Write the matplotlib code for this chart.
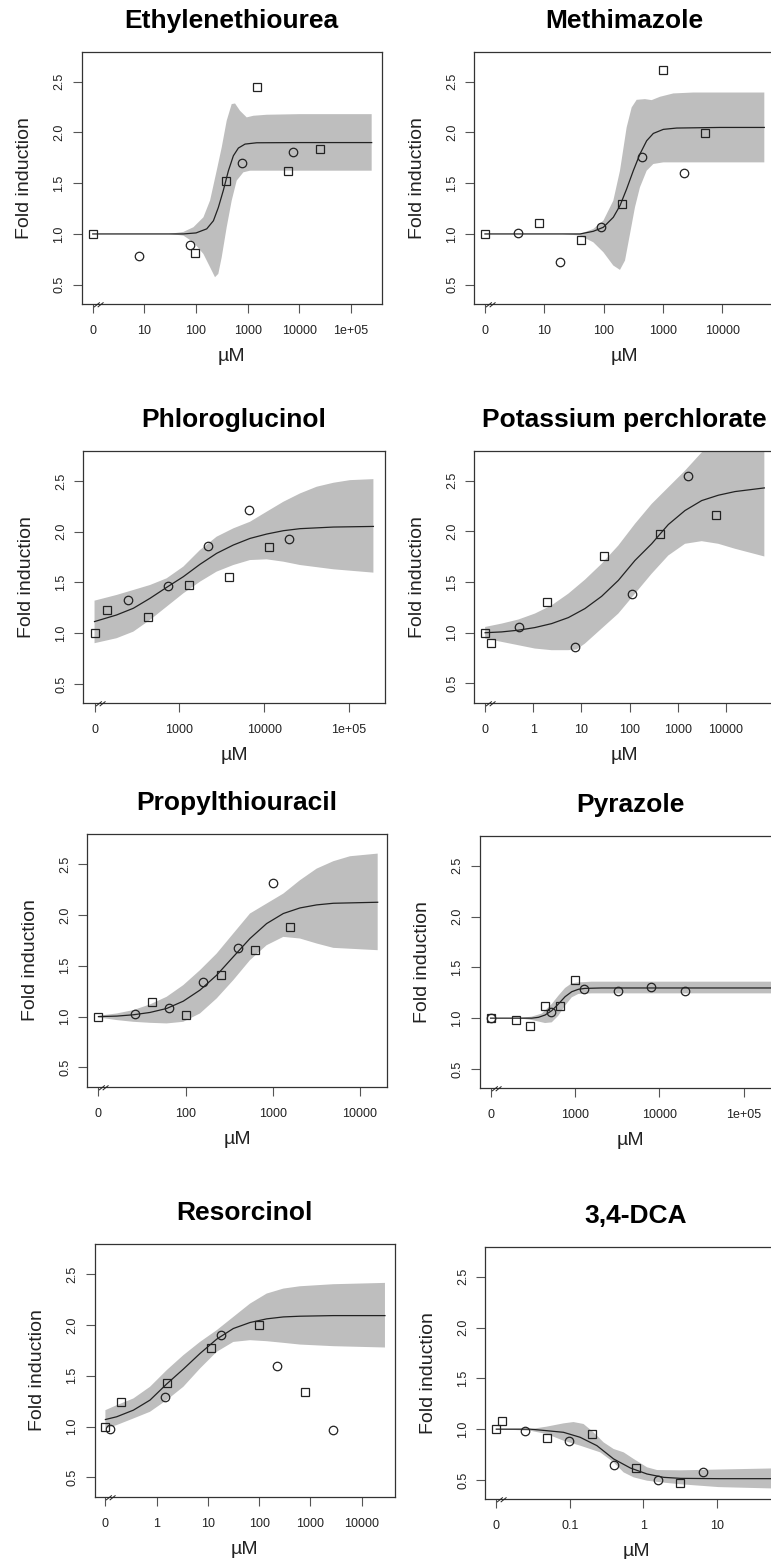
import numpy as np
import matplotlib
matplotlib.use("Agg")
import matplotlib.pyplot as plt
from matplotlib.path import Path
from matplotlib.transforms import offset_copy

plt.rcParams['font.family'] = ['Liberation Sans', 'DejaVu Sans']

W, H = 771, 1559

# ---- data (dose in uM, fold induction); dose 0 is drawn at the "0" tick ----
ETU_sq = [(0, 1.0), (95.5, 0.81), (380, 1.518), (1540, 2.452), (6100, 1.616), (24700, 1.836)]
ETU_ci = [(7.9, 0.787), (76.5, 0.895), (765, 1.698), (7650, 1.81)]
ETU_fit = [(0, 1.0), (57, 1.0), (100, 1.01), (161, 1.05), (217, 1.13), (270, 1.26), (338, 1.43),
           (422, 1.62), (528, 1.77), (660, 1.846), (888, 1.885), (1493, 1.898), (10300, 1.9), (251000, 1.9)]
ETU_hi = [(0, 1.0), (30, 1.0), (57, 1.02), (89, 1.066), (139, 1.164), (187, 1.33), (251, 1.623),
          (314, 1.852), (392, 2.115), (490, 2.279), (569, 2.285), (711, 2.213), (957, 2.148),
          (1288, 2.164), (2333, 2.174), (10300, 2.18), (251000, 2.18)]
ETU_lo = [(0, 1.0), (30, 1.0), (57, 0.984), (89, 0.918), (139, 0.803), (187, 0.672), (233, 0.574),
          (270, 0.607), (314, 0.77), (392, 1.066), (490, 1.328), (612, 1.525), (824, 1.607),
          (1110, 1.623), (10300, 1.623), (251000, 1.623)]

MMI_sq = [(0, 1.0), (8.1, 1.105), (41, 0.94), (204, 1.295), (1013, 2.61), (5030, 1.997)]
MMI_ci = [(3.65, 1.01), (18.1, 0.728), (90, 1.069), (449, 1.757), (2290, 1.60)]
MMI_fit = [(0, 1.0), (40, 1.0), (67, 1.026), (99, 1.066), (145.5, 1.164), (188.5, 1.279), (244, 1.443),
           (316, 1.623), (409, 1.787), (531, 1.918), (687, 1.99), (1013, 2.03), (1700, 2.043),
           (9140, 2.049), (51000, 2.049)]
MMI_hi = [(0, 1.0), (20, 1.0), (40, 1.0), (67, 1.049), (99, 1.131), (145.5, 1.328), (188.5, 1.623),
          (244, 2.049), (296.5, 2.246), (360, 2.321), (497, 2.328), (644, 2.318), (890, 2.351),
          (1493, 2.384), (3243, 2.393), (51000, 2.393)]
MMI_lo = [(0, 1.0), (20, 1.0), (40, 0.984), (67, 0.918), (99, 0.82), (145.5, 0.689), (188.5, 0.646),
          (229, 0.738), (278, 1.0), (337, 1.262), (409, 1.459), (531, 1.623), (687, 1.689),
          (1013, 1.705), (51000, 1.705)]

PHL_sq = [(0, 1.0), (142, 1.226), (427, 1.161), (1289, 1.475), (3820, 1.554), (11430, 1.849)]
PHL_ci = [(245, 1.325), (742, 1.469), (2198, 1.862), (6575, 2.216), (19700, 1.928)]
PHL_fit = [(0, 1.115), (182, 1.18), (287, 1.246), (451, 1.344), (709, 1.452), (1115, 1.557),
           (1754, 1.679), (2755, 1.787), (4335, 1.869), (6820, 1.934), (10720, 1.977),
           (16870, 2.01), (26530, 2.03), (65600, 2.046), (194600, 2.052)]
PHL_hi = [(0, 1.321), (182, 1.377), (287, 1.426), (451, 1.475), (709, 1.541), (1115, 1.656),
          (1754, 1.82), (2755, 1.951), (4335, 2.033), (6820, 2.098), (10720, 2.197), (16870, 2.295),
          (26530, 2.377), (41700, 2.443), (65600, 2.482), (103100, 2.508), (194600, 2.518)]
PHL_lo = [(0, 0.902), (182, 0.951), (287, 1.016), (451, 1.131), (709, 1.262), (1115, 1.393),
          (1754, 1.508), (2755, 1.607), (4335, 1.672), (6820, 1.721), (10720, 1.728),
          (16870, 1.705), (26530, 1.672), (65600, 1.63), (194600, 1.597)]

KP_sq = [(0, 1.0), (0.132, 0.9), (1.95, 1.30), (28.8, 1.752), (420, 1.969), (6200, 2.159)]
KP_ci = [(0.496, 1.057), (7.33, 0.864), (110, 1.379), (1626, 2.549)]
KP_fit = [(0, 1.0), (0.22, 1.008), (0.488, 1.025), (1.08, 1.051), (2.4, 1.09), (5.33, 1.149),
          (11.8, 1.238), (26.2, 1.359), (58.2, 1.516), (129, 1.713), (286, 1.877), (420, 1.969),
          (635, 2.067), (1409, 2.205), (3125, 2.303), (6930, 2.356), (15380, 2.392), (62500, 2.428)]
KP_hi = [(0, 1.057), (0.22, 1.09), (0.488, 1.13), (1.08, 1.189), (2.4, 1.27), (5.33, 1.385),
         (11.8, 1.523), (26.2, 1.68), (58.2, 1.86), (129, 2.074), (286, 2.27), (635, 2.434),
         (1409, 2.598), (3125, 2.778), (6930, 2.893), (15380, 2.959), (62500, 3.02)]
KP_lo = [(0, 0.943), (0.22, 0.91), (0.488, 0.877), (1.08, 0.844), (2.4, 0.828), (5.33, 0.828),
         (7.94, 0.835), (11.8, 0.893), (26.2, 1.041), (58.2, 1.189), (129, 1.385), (286, 1.582),
         (635, 1.762), (1409, 1.877), (3125, 1.903), (6930, 1.877), (15380, 1.828),
         (34100, 1.785), (62500, 1.752)]

PTU_sq = [(0, 1.0), (40.7, 1.146), (102, 1.015), (252, 1.405), (630, 1.654), (1587, 1.879)]
PTU_ci = [(26, 1.021), (64.4, 1.087), (160, 1.339), (399, 1.68), (996, 2.318)]
PTU_fit = [(0, 1.0), (16.2, 1.005), (25.1, 1.018), (39, 1.041), (60.5, 1.08), (94, 1.152),
           (146, 1.261), (227, 1.408), (352, 1.589), (547, 1.769), (849, 1.916), (1319, 2.015),
           (2049, 2.07), (3183, 2.1), (4943, 2.116), (15950, 2.126)]
PTU_hi = [(0, 1.008), (16.2, 1.031), (25.1, 1.064), (39, 1.12), (60.5, 1.195), (94, 1.31),
          (146, 1.457), (227, 1.621), (352, 1.818), (547, 2.015), (849, 2.113), (1319, 2.211),
          (2049, 2.343), (3183, 2.457), (4943, 2.53), (7678, 2.579), (15950, 2.605)]
PTU_lo = [(0, 0.992), (16.2, 0.966), (25.1, 0.949), (39, 0.939), (60.5, 0.933), (94, 0.949),
          (146, 1.031), (227, 1.179), (352, 1.359), (547, 1.556), (849, 1.703), (1319, 1.785),
          (2049, 1.769), (3183, 1.72), (4943, 1.677), (15950, 1.654)]

PYR_sq = [(0, 1.0), (198, 0.982), (296, 0.927), (445, 1.117), (670, 1.12), (1009, 1.372)]
PYR_ci = [(0, 1.0), (525, 1.058), (1290, 1.284), (3228, 1.264), (8020, 1.31), (20100, 1.264)]
PYR_fit = [(0, 1.0), (307, 1.0), (368, 1.008), (442, 1.031), (530, 1.074), (635, 1.139),
           (762, 1.211), (914, 1.26), (1095, 1.284), (1313, 1.293), (2069, 1.297), (256000, 1.297)]
PYR_hi = [(0, 1.0), (213, 1.0), (307, 1.015), (403, 1.045), (530, 1.139), (635, 1.221),
          (762, 1.297), (914, 1.343), (1095, 1.352), (1574, 1.359), (256000, 1.359)]
PYR_lo = [(0, 1.0), (213, 1.0), (307, 0.982), (442, 0.952), (530, 0.959), (635, 1.025),
          (762, 1.123), (914, 1.205), (1095, 1.238), (1574, 1.244), (256000, 1.244)]

RES_sq = [(0, 1.0), (0.199, 1.238), (1.57, 1.434), (11.5, 1.775), (99, 2.005), (782, 1.343)]
RES_ci = [(0.123, 0.979), (1.45, 1.29), (18, 1.903), (222, 1.592), (2790, 0.962)]
RES_fit = [(0, 1.07), (0.166, 1.097), (0.351, 1.162), (0.741, 1.261), (1.57, 1.42), (3.31, 1.566),
           (7.0, 1.72), (14.8, 1.861), (31.3, 1.966), (66.2, 2.025), (140, 2.061), (296, 2.08),
           (625, 2.087), (2792, 2.093), (28400, 2.093)]
RES_hi = [(0, 1.162), (0.166, 1.211), (0.351, 1.277), (0.741, 1.392), (1.57, 1.556), (3.31, 1.703),
          (7.0, 1.834), (14.8, 1.949), (31.3, 2.08), (66.2, 2.211), (140, 2.31), (296, 2.359),
          (625, 2.382), (2792, 2.402), (28400, 2.415)]
RES_lo = [(0, 0.982), (0.166, 1.015), (0.351, 1.08), (0.741, 1.146), (1.57, 1.261), (3.31, 1.392),
          (7.0, 1.572), (14.8, 1.736), (31.3, 1.834), (66.2, 1.851), (140, 1.841), (296, 1.825),
          (625, 1.808), (2792, 1.792), (28400, 1.779)]

DCA_sq = [(0, 1.0), (0.0121, 1.084), (0.0491, 0.913), (0.197, 0.952), (0.785, 0.618), (3.16, 0.471)]
DCA_ci = [(0.0246, 0.979), (0.098, 0.887), (0.394, 0.651), (1.585, 0.503), (6.38, 0.58)]
DCA_fit = [(0, 1.0), (0.0288, 1.0), (0.0486, 0.985), (0.082, 0.969), (0.138, 0.92), (0.233, 0.838),
           (0.394, 0.707), (0.665, 0.618), (1.122, 0.559), (1.892, 0.526), (3.2, 0.516),
           (10.6, 0.513), (70, 0.513)]
DCA_hi = [(0, 1.0), (0.0288, 1.0), (0.0486, 1.025), (0.082, 1.057), (0.112, 1.07), (0.1535, 1.051),
          (0.21, 0.969), (0.288, 0.87), (0.394, 0.805), (0.539, 0.772), (0.738, 0.707),
          (1.122, 0.625), (1.535, 0.598), (3.2, 0.595), (70, 0.615)]
DCA_lo = [(0, 1.0), (0.0288, 0.985), (0.0486, 0.952), (0.082, 0.887), (0.138, 0.838), (0.189, 0.805),
          (0.259, 0.772), (0.394, 0.674), (0.539, 0.575), (0.738, 0.526), (1.122, 0.493),
          (1.892, 0.474), (3.2, 0.458), (10.6, 0.43), (70, 0.415)]

titles = ["Ethylenethiourea", "Methimazole", "Phloroglucinol", "Potassium perchlorate",
          "Propylthiouracil", "Pyrazole", "Resorcinol", "3,4-DCA"]
squares = [ETU_sq, MMI_sq, PHL_sq, KP_sq, PTU_sq, PYR_sq, RES_sq, DCA_sq]
circles = [ETU_ci, MMI_ci, PHL_ci, KP_ci, PTU_ci, PYR_ci, RES_ci, DCA_ci]
fits = [ETU_fit, MMI_fit, PHL_fit, KP_fit, PTU_fit, PYR_fit, RES_fit, DCA_fit]
uppers = [ETU_hi, MMI_hi, PHL_hi, KP_hi, PTU_hi, PYR_hi, RES_hi, DCA_hi]
lowers = [ETU_lo, MMI_lo, PHL_lo, KP_lo, PTU_lo, PYR_lo, RES_lo, DCA_lo]

# where the dose "0" sits on each log axis
zero_at = [1, 1, 100, 0.1, 10, 100, 0.1, 0.01]
xtick_vals = [[10, 100, 1000, 1e4, 1e5], [10, 100, 1000, 1e4], [1000, 1e4, 1e5],
              [1, 10, 100, 1000, 1e4], [100, 1000, 1e4], [1000, 1e4, 1e5],
              [1, 10, 100, 1000, 1e4], [0.1, 1, 10]]
xtick_labs = [["10", "100", "1000", "10000", "1e+05"], ["10", "100", "1000", "10000"],
              ["1000", "10000", "1e+05"], ["1", "10", "100", "1000", "10000"],
              ["100", "1000", "10000"], ["1000", "10000", "1e+05"],
              ["1", "10", "100", "1000", "10000"], ["0.1", "1", "10"]]
xlims = [(0.612, 392600), (0.661, 77200), (73.7, 266600), (0.0596, 104000),
         (7.45, 20400), (74.3, 275000), (0.0618, 44570), (0.00708, 89)]

# axes boxes in pixels: left, top, right, bottom
boxes = [(81.7, 51.7, 381.7, 304), (474.3, 51.7, 775, 304),
         (83.3, 451, 385, 703.3), (474.3, 450.7, 775, 702.7),
         (87.3, 834.3, 387, 1086.7), (479.7, 835.7, 781, 1088.3),
         (94.7, 1244.3, 395, 1496.7), (485.3, 1246.7, 786.7, 1499.3)]

band_col = '#bebebe'
ink = '#222222'
frame = '#333333'

# "//" axis-break mark
brk = Path([(0.5, -2.5), (6, 2), (4, -2.5), (9.5, 2)],
           [Path.MOVETO, Path.LINETO, Path.MOVETO, Path.LINETO])


def split(pairs, z):
    x = np.array([p[0] for p in pairs], float)
    y = np.array([p[1] for p in pairs], float)
    x[x == 0] = z
    return x, y


fig = plt.figure(figsize=(W / 100, H / 100), dpi=100)

for i in range(8):
    l, t, r, b = boxes[i]
    ax = fig.add_axes([l / W, 1 - b / H, (r - l) / W, (b - t) / H])
    z = zero_at[i]

    hx, hy = split(uppers[i], z)
    lx, ly = split(lowers[i], z)
    ax.fill(np.r_[hx, lx[::-1]], np.r_[hy, ly[::-1]], color=band_col, lw=0, zorder=1)

    fx, fy = split(fits[i], z)
    ax.plot(fx, fy, color=ink, lw=0.9, zorder=2)

    sx, sy = split(squares[i], z)
    ax.plot(sx, sy, ls='none', marker='s', ms=5.3, mfc='none', mec=ink, mew=0.9, zorder=3)
    cx, cy = split(circles[i], z)
    ax.plot(cx, cy, ls='none', marker='o', ms=6.1, mfc='none', mec=ink, mew=0.9, zorder=3)

    ax.set_xscale('log')
    ax.set_xlim(*xlims[i])
    ax.set_ylim(0.31, 2.795)
    ax.set_xticks([z] + xtick_vals[i])
    ax.set_xticklabels(["0"] + xtick_labs[i])
    ax.xaxis.set_minor_locator(plt.NullLocator())
    ax.set_yticks([0.5, 1.0, 1.5, 2.0, 2.5])
    ax.set_yticklabels(["0.5", "1.0", "1.5", "2.0", "2.5"])
    for s in ax.spines.values():
        s.set_color(frame)
        s.set_linewidth(0.9)
    ax.tick_params(axis='both', direction='out', length=6.2, width=0.8, color='#555555',
                   labelsize=9, labelcolor=ink)
    ax.tick_params(axis='x', pad=9)
    ax.tick_params(axis='y', pad=5.5)
    for lab in ax.get_yticklabels():
        lab.set_rotation(90)
        lab.set_va('center')

    ax.plot([z], [0], transform=ax.get_xaxis_transform(), marker=brk, ms=14.4,
            mec=ink, mew=0.7, ls='none', clip_on=False, zorder=5)

    ax.text(0.5, 1, titles[i], transform=offset_copy(ax.transAxes, fig, x=0, y=24, units='dots'),
            ha='center', va='baseline', fontsize=19, fontweight='bold', color='black')
    ax.text(0.5, 0, "µM", transform=offset_copy(ax.transAxes, fig, x=0, y=-57, units='dots'),
            ha='center', va='baseline', fontsize=14, color=ink)
    ax.text(0, 0.5, "Fold induction", transform=offset_copy(ax.transAxes, fig, x=-57, y=0, units='dots'),
            ha='center', va='center', rotation=90, fontsize=14, color=ink)

fig.savefig("out.png", dpi=100)
